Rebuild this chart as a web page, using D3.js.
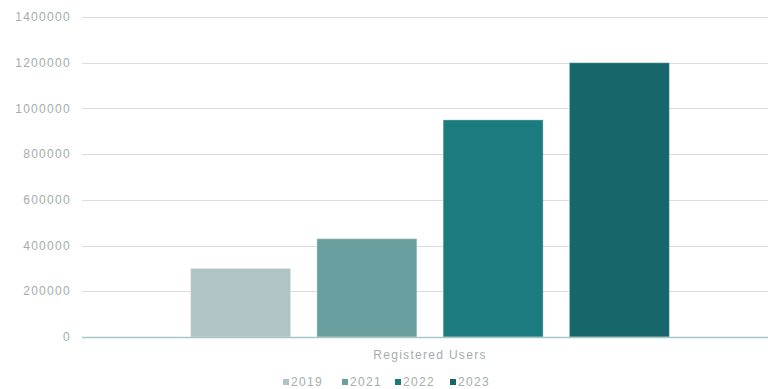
<!DOCTYPE html>
<html>
<head>
<meta charset="utf-8">
<script src="https://cdn.jsdelivr.net/npm/d3@7"></script>
<style>
  body { margin: 0; background: #fff; }
  svg text { font-family: "Liberation Sans", Arial, sans-serif; letter-spacing: 1.3px; }
</style>
</head>
<body>
<svg id="chart" width="768" height="389"></svg>
<script>
// data
const categories = ["Registered Users"];
const seriesNames = ["2019", "2021", "2022", "2023"];
const seriesValues = [300000, 430000, 950000, 1200000];
const seriesColors = ["#b0c4c6", "#6a9fa0", "#1c7b7e", "#17666a"];
const yTicks = [0, 200000, 400000, 600000, 800000, 1000000, 1200000, 1400000];

const svg = d3.select("#chart");
const plotLeft = 82, plotRight = 778, plotTop = 17, plotBottom = 337;

const y = d3.scaleLinear().domain([0, 1400000]).range([plotBottom, plotTop]);
const x0 = d3.scaleBand().domain(categories).range([plotLeft, plotRight]).paddingOuter(0.155);
const x1 = d3.scaleBand().domain(seriesNames).range([0, x0.bandwidth()]).padding(0.208);

// gridlines
svg.append("g")
    .selectAll("line")
    .data(yTicks.filter(d => d > 0))
    .join("line")
    .attr("x1", plotLeft).attr("x2", 768)
    .attr("y1", d => Math.round(y(d)) + 0.5)
    .attr("y2", d => Math.round(y(d)) + 0.5)
    .attr("stroke", "#d6dede")
    .attr("stroke-width", 1.2);

// y labels
svg.append("g")
    .selectAll("text")
    .data(yTicks)
    .join("text")
    .attr("x", 71)
    .attr("y", d => y(d))
    .attr("dy", "0.35em")
    .attr("text-anchor", "end")
    .attr("font-size", 12)
    .attr("fill", "#a3adad")
    .text(d => d);

// bars
const group = svg.append("g")
    .selectAll("g")
    .data(categories)
    .join("g")
    .attr("transform", d => `translate(${x0(d)},0)`);

group.selectAll("rect")
    .data(seriesNames.map((s, i) => ({ name: s, value: seriesValues[i], color: seriesColors[i] })))
    .join("rect")
    .attr("x", d => x1(d.name))
    .attr("y", d => y(d.value))
    .attr("width", x1.bandwidth())
    .attr("height", d => y(0) - y(d.value))
    .attr("fill", d => d.color)
    .attr("stroke", "#ffffff")
    .attr("stroke-opacity", 0.35)
    .attr("stroke-width", 1);

// baseline
svg.append("line")
    .attr("x1", plotLeft).attr("x2", 768)
    .attr("y1", y(0) + 0.5).attr("y2", y(0) + 0.5)
    .attr("stroke", "#a9c5c5")
    .attr("stroke-width", 1.5);

// category label
svg.append("g")
    .selectAll("text")
    .data(categories)
    .join("text")
    .attr("x", d => x0(d) + x0.bandwidth() / 2)
    .attr("y", 359)
    .attr("text-anchor", "middle")
    .attr("font-size", 12)
    .attr("fill", "#a3adad")
    .text(d => d);

// legend
const legendX = [283, 342, 395, 450];
const legend = svg.append("g")
    .selectAll("g")
    .data(seriesNames)
    .join("g")
    .attr("transform", (d, i) => `translate(${legendX[i]},382)`);

legend.append("rect")
    .attr("x", 0).attr("y", -3)
    .attr("width", 6).attr("height", 6)
    .attr("fill", (d, i) => seriesColors[i]);

legend.append("text")
    .attr("x", 8)
    .attr("dy", "0.35em")
    .attr("font-size", 12)
    .attr("fill", "#a3adad")
    .text(d => d);
</script>
</body>
</html>
